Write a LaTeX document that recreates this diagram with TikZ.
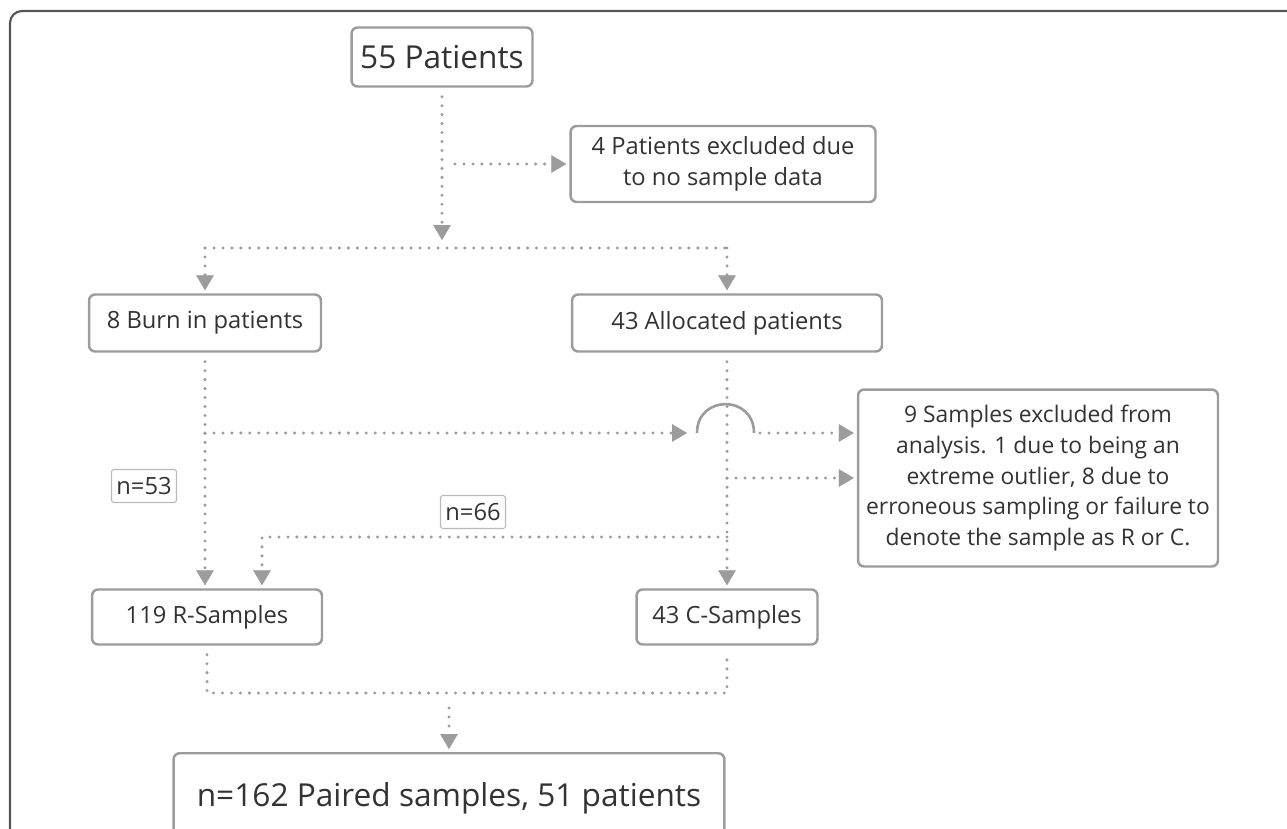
\documentclass[tikz,border=0pt]{standalone}
\usepackage{fontspec}
\setmainfont{Open Sans}
\usetikzlibrary{arrows.meta,positioning,calc}

\definecolor{linegray}{HTML}{9C9C9C}
\definecolor{boxgray}{HTML}{9C9C9C}
\definecolor{textgray}{HTML}{333333}
\definecolor{framegray}{HTML}{555555}

\newcommand\bigtxt{\fontsize{18}{22}\selectfont}
\newcommand\midtxt{\fontsize{13.5}{17.6}\selectfont}
\newcommand\boxtxt{\fontsize{13}{17.6}\selectfont}

\tikzset{
  box/.style={draw=boxgray,line width=1.4pt,rounded corners=3.5pt,fill=white,
    text=textgray,align=center,inner sep=0pt,font=\midtxt},
  dotline/.style={draw=linegray,line width=1.9pt,line cap=round,
    dash pattern=on 0pt off 5.1pt},
  flow/.style={dotline,-{Triangle[length=8.5pt,width=10pt,line width=0.1pt,fill=linegray]}},
  hop/.style={draw=linegray,line width=1.5pt},
  countbox/.style={draw=boxgray!70,line width=0.6pt,rounded corners=1pt,
    text=textgray,inner sep=0pt,minimum width=1.3cm,minimum height=0.66cm,font=\midtxt},
}

\begin{document}
\begin{tikzpicture}[x=0.02cm,y=-0.02cm]
  \useasboundingbox (0,0) rectangle (1287,828);

  % outer frame, cut by the page on two sides
  \draw[framegray,line width=1.2pt,rounded corners=0.24cm] (10,900) -- (10,11) -- (1350,11);

  % boxes
  \node[box,minimum width=3.62cm,minimum height=1.18cm,font=\bigtxt] (pat55) at (442,57) {55 Patients};
  \node[box,minimum width=6.1cm,minimum height=1.52cm] (excl4) at (723,164)
    {4 Patients excluded due\\to no sample data};
  \node[box,minimum width=4.64cm,minimum height=1.14cm] (burn) at (205,323) {8 Burn in patients};
  \node[box,minimum width=6.2cm,minimum height=1.14cm] (alloc) at (727,323) {43 Allocated patients};
  \node[box,minimum width=7.2cm,minimum height=3.54cm,font=\boxtxt] (excl9) at (1038,478)
    {9 Samples excluded from\\analysis. 1 due to being an\\extreme outlier, 8 due to\\erroneous sampling or failure to\\denote the sample as R or C.};
  \node[box,minimum width=4.6cm,minimum height=1.1cm] (rsamp) at (207,617) {119 R-Samples};
  \node[box,minimum width=3.62cm,minimum height=1.1cm] (csamp) at (727,617) {43 C-Samples};
  \node[box,minimum width=11.02cm,minimum height=1.8cm,font=\bigtxt,anchor=north] (paired) at (449,752)
    {n=162 Paired samples, 51 patients};

  % split after the first box
  \coordinate (split) at (442,248);
  \draw[flow,shorten <=0.18cm,shorten >=0.16cm] (pat55.south) -- (split);
  \draw[flow,shorten <=0.26cm,shorten >=0.06cm] (pat55.south |- excl4) -- (excl4.west);
  \draw[dotline] (burn.north |- split) -- (alloc.north |- split);
  \draw[flow,shorten >=0.06cm] (burn.north |- split) -- (burn.north);
  \draw[flow,shorten >=0.06cm] (alloc.north |- split) -- (alloc.north);

  % burn in branch, hopping over the allocated line
  \coordinate (hopin) at (697,433);
  \coordinate (hopout) at (754,433);
  \draw[flow,shorten <=0.18cm,shorten >=0.06cm] (burn.south) -- (burn.south |- rsamp.north);
  \draw[flow,shorten >=0.2cm] (burn.south |- hopin) -- (hopin);
  \draw[hop] (hopin) .. controls +(0,-38.5) and +(0,-38.5) .. (hopout);
  \draw[flow,shorten <=0.12cm,shorten >=0.06cm] (hopout) -- (excl9.west |- hopout);

  % allocated branch
  \coordinate (bend66) at (262,537);
  \draw[flow,shorten <=0.18cm,shorten >=0.06cm] (alloc.south) -- (csamp.north);
  \draw[flow,shorten >=0.06cm] (alloc.south |- excl9.west) -- (excl9.west);
  \draw[flow,shorten >=0.06cm] (alloc.south |- bend66) -- (bend66) -- (bend66 |- rsamp.north);

  \node[countbox] (n53) at (144,486) {n=53};
  \node[countbox] (n66) at (473,512) {n=66};

  % merge into the paired samples
  \coordinate (merge) at (449,693);
  \draw[dotline,shorten <=0.18cm,shorten >=0.18cm] (rsamp.south) -- (rsamp.south |- merge)
    -- (csamp.south |- merge) -- (csamp.south);
  \draw[flow,shorten <=0.3cm,shorten >=0.06cm] (merge) -- (paired.north);
\end{tikzpicture}
\end{document}
